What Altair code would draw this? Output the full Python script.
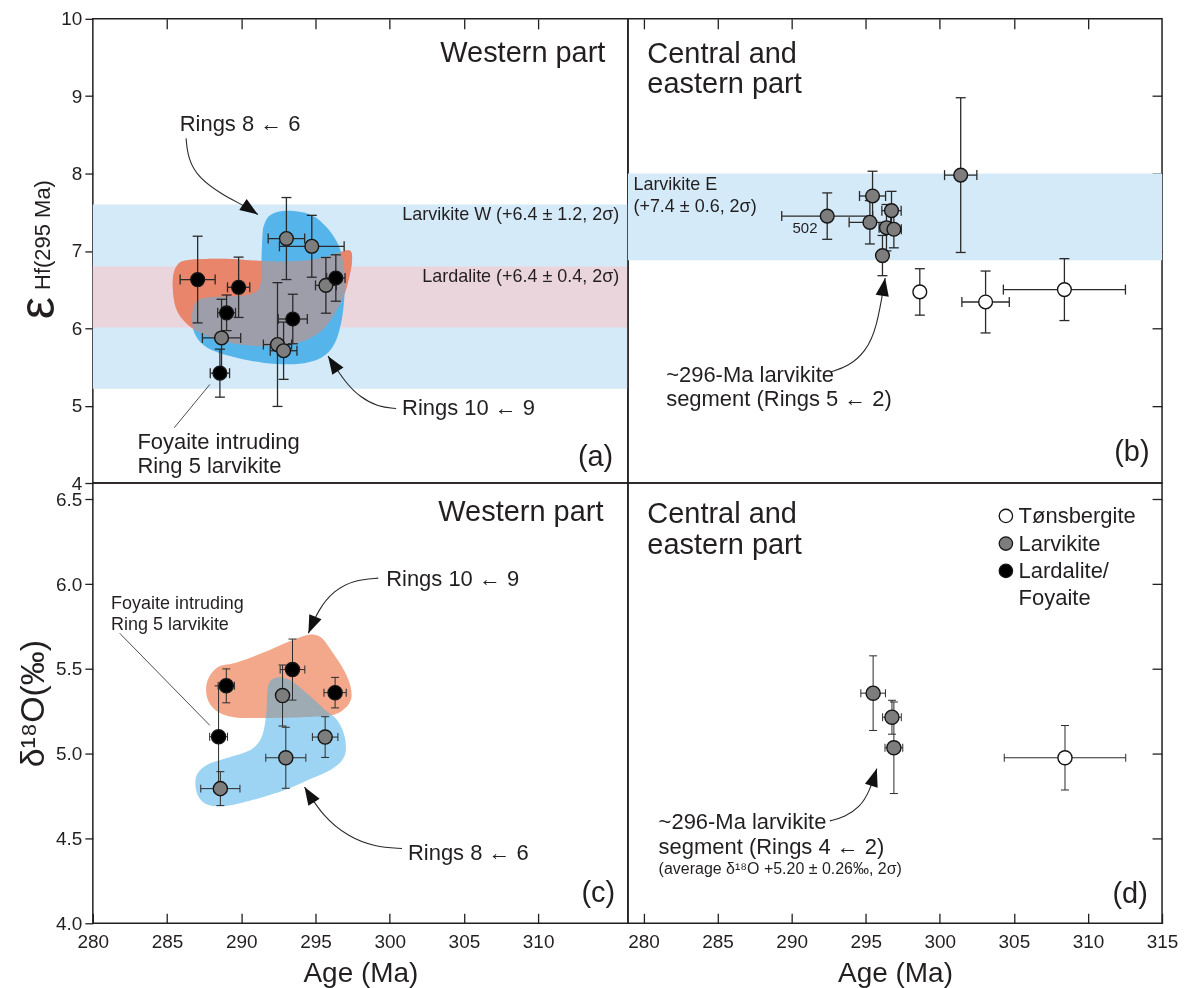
import math
import altair as alt
import pandas as pd

FONT = "Liberation Sans"
INK = "#231f20"
BAR = "#2a2a2a"

# ---------------- frames ----------------
X_WEST = [280.0, 316.05]
X_EAST = [278.95, 315.0]
Y_HF = [4.0, 10.0]
Y_O = [4.0, 6.596]
W_WEST, W_EAST, H_TOP, H_BOT = 536, 535, 465, 441

ROCKS = ["Tønsbergite", "Larvikite", "Lardalite/Foyaite"]
ROCK_FILLS = ["#ffffff", "#7d7d7d", "#000000"]

# ---------------- (a) eHf, western part ----------------
a_rock = ["Larvikite"] * 6 + ["Lardalite/Foyaite"] * 6
a_age = [288.67, 293.04, 294.75, 295.70, 292.44, 292.85, 287.06, 289.82, 289.01, 293.47, 296.37, 288.56]
a_age_err = [1.29, 1.23, 2.18, 0.70, 0.95, 0.90, 1.18, 0.75, 0.60, 0.98, 0.62, 0.65]
a_val = [5.875, 7.16, 7.06, 6.555, 5.79, 5.71, 6.63, 6.53, 6.20, 6.12, 6.65, 5.42]
a_val_err = [0.50, 0.53, 0.40, 0.36, 0.80, 0.37, 0.56, 0.39, 0.23, 0.32, 0.30, 0.31]

a_band_lo = [5.22, 6.01]
a_band_hi = [7.60, 6.80]
a_band_col = ["#d4eaf8", "#ead5dd"]

a_orange_x = [285.38, 285.71, 286.61, 288.85, 291.10, 293.34, 295.13, 296.48, 297.33, 297.46, 297.26,
              296.93, 296.25, 295.36, 293.79, 291.54, 289.30, 287.51, 286.39, 285.60]
a_orange_y = [6.607, 6.822, 6.886, 6.899, 6.873, 6.865, 6.899, 6.972, 7.002, 6.865, 6.650,
              6.435, 6.177, 5.961, 5.811, 5.768, 5.811, 5.918, 6.048, 6.262]
a_blue_x = [291.54, 291.99, 293.11, 294.68, 295.80, 296.59, 296.93, 296.97, 296.75, 296.25, 295.36, 293.79,
            291.54, 289.30, 287.73, 286.95, 286.68, 286.84, 287.51, 289.30, 290.65, 291.28, 291.37, 291.43]
a_blue_y = [7.338, 7.467, 7.518, 7.467, 7.295, 7.058, 6.779, 6.478, 6.091, 5.789, 5.617, 5.540,
            5.553, 5.639, 5.746, 5.897, 6.091, 6.306, 6.392, 6.413, 6.443, 6.564, 6.951, 7.209]

# ---------------- (b) eHf, central and eastern part ----------------
b_rock = ["Larvikite"] * 8 + ["Tønsbergite"] * 3
b_age = [292.40, 295.46, 296.74, 295.28, 296.40, 296.90, 296.13, 301.41, 298.65, 303.09, 308.41]
b_age_err = [3.07, 0.88, 0.65, 1.40, 0.50, 0.50, 0.30, 1.09, 0.0, 1.60, 4.12]
b_val = [7.45, 7.71, 7.52, 7.37, 7.30, 7.28, 6.94, 7.98, 6.47, 6.34, 6.50]
b_val_err = [0.30, 0.32, 0.25, 0.28, 0.30, 0.24, 0.26, 1.00, 0.30, 0.40, 0.40]

b_band_lo = [6.88]
b_band_hi = [8.00]
b_band_col = ["#d4eaf8"]

# ---------------- (c) d18O, western part ----------------
c_rock = ["Larvikite"] * 4 + ["Lardalite/Foyaite"] * 4
c_age = [288.59, 292.78, 293.00, 295.65, 288.99, 293.45, 296.32, 288.47]
c_age_err = [1.32, 0.40, 1.35, 0.86, 0.55, 0.83, 0.75, 0.60]
c_val = [4.794, 5.343, 4.976, 5.098, 5.40, 5.496, 5.36, 5.10]
c_val_err = [0.10, 0.18, 0.18, 0.12, 0.10, 0.18, 0.09, 0.30]

c_orange_x = [287.69, 287.73, 288.41, 289.75, 291.54, 293.34, 294.57, 295.36, 296.14, 296.93, 297.37,
              297.37, 296.81, 295.92, 294.01, 291.54, 289.53, 288.29]
c_orange_y = [5.333, 5.431, 5.509, 5.539, 5.598, 5.666, 5.702, 5.686, 5.598, 5.490, 5.392,
              5.313, 5.255, 5.225, 5.215, 5.211, 5.215, 5.255]
c_blue_x = [291.77, 291.99, 292.55, 293.34, 294.46, 295.58, 296.48, 296.97, 296.97, 296.14, 294.46,
            292.89, 291.10, 289.30, 287.84, 287.06, 286.95, 287.62, 289.08, 290.54, 291.32, 291.66]
c_blue_y = [5.372, 5.431, 5.451, 5.431, 5.353, 5.264, 5.196, 5.098, 4.990, 4.911, 4.843,
            4.784, 4.735, 4.696, 4.696, 4.755, 4.862, 4.931, 4.976, 5.019, 5.088, 5.215]

# ---------------- (d) d18O, central and eastern part ----------------
d_rock = ["Larvikite"] * 3 + ["Tønsbergite"]
d_age = [295.50, 296.77, 296.90, 308.45]
d_age_err = [0.83, 0.63, 0.60, 4.10]
d_val = [5.357, 5.215, 5.035, 4.976]
d_val_err = [0.22, 0.10, 0.27, 0.19]

legend_labels = ["Tønsbergite", "Larvikite", "Lardalite/", "Foyaite"]
legend_y = [6.402, 6.239, 6.078, 5.920]

# ---------------- annotation text ----------------
a_notes = [
    ("Western part", 314.53, 9.445, 29, "right", "alphabetic"),
    ("(a)", 315.06, 4.219, 29, "right", "alphabetic"),
    ("Larvikite W (+6.4 ± 1.2, 2σ)", 315.47, 7.47, 18, "right", "middle"),
    ("Lardalite (+6.4 ± 0.4, 2σ)", 315.47, 6.66, 18, "right", "middle"),
    ("Rings 8 ← 6", 285.85, 8.64, 22, "left", "middle"),
    ("Rings 10 ← 9", 300.83, 4.964, 22, "left", "middle"),
    ("Foyaite intruding", 283.0, 4.53, 22, "left", "middle"),
    ("Ring 5 larvikite", 283.0, 4.22, 22, "left", "middle"),
]
b_notes = [
    ("Central and", 280.26, 9.432, 29, "left", "alphabetic"),
    ("eastern part", 280.26, 9.036, 29, "left", "alphabetic"),
    ("(b)", 314.16, 4.284, 29, "right", "alphabetic"),
    ("Larvikite E", 279.32, 7.85, 18, "left", "middle"),
    ("(+7.4 ± 0.6, 2σ)", 279.32, 7.57, 18, "left", "middle"),
    ("502", 290.9, 7.29, 15, "center", "middle"),
    ("~296-Ma larvikite", 281.53, 5.40, 22, "left", "middle"),
    ("segment (Rings 5 ← 2)", 281.53, 5.08, 22, "left", "middle"),
]
c_notes = [
    ("Western part", 314.4, 6.372, 29, "right", "alphabetic"),
    ("(c)", 315.19, 4.127, 29, "right", "alphabetic"),
    ("Rings 10 ← 9", 299.76, 6.03, 22, "left", "middle"),
    ("Rings 8 ← 6", 301.23, 4.415, 22, "left", "middle"),
    ("Foyaite intruding", 281.23, 5.882, 18, "left", "middle"),
    ("Ring 5 larvikite", 281.23, 5.76, 18, "left", "middle"),
]
d_notes = [
    ("Central and", 280.26, 6.362, 29, "left", "alphabetic"),
    ("eastern part", 280.26, 6.176, 29, "left", "alphabetic"),
    ("(d)", 314.04, 4.118, 29, "right", "alphabetic"),
    ("~296-Ma larvikite", 281.02, 4.598, 22, "left", "middle"),
    ("segment (Rings 4 ← 2)", 281.02, 4.45, 22, "left", "middle"),
    ("(average δ¹⁸O +5.20 ± 0.26‰, 2σ)", 281.02, 4.318, 16, "left", "middle"),
] + [(t, 305.32, y, 22, "left", "middle") for t, y in zip(legend_labels, legend_y)]

# curved arrows: lists of (x, y) control points, last point = arrow tip
a_arrows = [
    [(286.28, 8.455), (286.41, 8.19), (287.13, 7.94), (288.72, 7.725), (290.31, 7.574), (291.12, 7.47)],
    [(300.43, 4.964), (299.2, 4.985), (298.0, 5.11), (297.0, 5.30), (295.85, 5.64)],
]
b_arrows = [
    [(292.63, 5.436), (293.85, 5.51), (295.0, 5.70), (295.75, 6.0), (296.31, 6.65)],
]
c_arrows = [
    [(299.23, 6.035), (297.6, 6.025), (296.2, 5.96), (295.2, 5.85), (294.52, 5.71)],
    [(300.83, 4.441), (299.0, 4.45), (297.2, 4.51), (295.5, 4.63), (294.26, 4.804)],
]
d_arrows = [
    [(292.58, 4.604), (293.59, 4.627), (294.61, 4.686), (295.24, 4.774), (295.75, 4.912)],
]
a_pointers = [[(285.48, 4.714), (287.88, 5.274)]]
c_pointers = [[(281.81, 5.71), (287.88, 5.167)]]

HEAD = "M0,0L0.37,1L-0.37,1Z"
LABEL_FS = 19


def ax_in(orient, values):
    return alt.Axis(orient=orient, values=values, labels=False, tickSize=10, offset=-10,
                    domain=False, grid=False, title=None, tickColor=INK, tickWidth=1.3)


LAB = dict(labelFont=FONT, labelFontSize=LABEL_FS, labelColor=INK, tickColor=INK, tickWidth=1.3,
           domain=False, grid=False, labelFlush=False)

ax_a_x = ax_in("top", [285, 290, 295, 300, 305, 310])
ax_a_y = alt.Axis(orient="left", values=[4, 5, 6, 7, 8, 9, 10], format="d", tickSize=8,
                  labelPadding=3, title=None, **LAB)
ax_b_x = ax_in("top", [280, 285, 290, 295, 300, 305, 310])
ax_b_y = ax_in("right", [5, 6, 7, 8, 9])
TIT = dict(titleFont=FONT, titleFontWeight="normal", titleColor=INK)
ax_c_x = alt.Axis(orient="bottom", values=[280, 285, 290, 295, 300, 305, 310], format="d",
                  tickSize=10, offset=-10, labelPadding=9, title="Age (Ma)", titleFontSize=28,
                  titlePadding=8, **TIT, **LAB)
ax_c_y = alt.Axis(orient="left", values=[4.0, 4.5, 5.0, 5.5, 6.0, 6.5], format=".1f", tickSize=8,
                  labelPadding=3, title="δ¹⁸O(‰)", titleFontSize=34, titlePadding=5, **TIT, **LAB)
ax_d_x = alt.Axis(orient="bottom", values=[280, 285, 290, 295, 300, 305, 310, 315], format="d",
                  tickSize=10, offset=-10, labelPadding=9, title="Age (Ma)", titleFontSize=28,
                  titlePadding=8, **TIT, **LAB)
ax_d_y = ax_in("right", [4.5, 5.0, 5.5, 6.0, 6.5])


def panel(W, H, xdom, ydom, xaxis, yaxis, age, age_err, val, val_err, rock,
          cap=10, bw=1.3, psize=190, bands=None, blobs=(), notes=(), arrows=(), pointers=(),
          extra=None):
    def X(f):
        return alt.X(f, type="quantitative", scale=alt.Scale(domain=xdom, nice=False, zero=False), axis=xaxis)

    def Y(f):
        return alt.Y(f, type="quantitative", scale=alt.Scale(domain=ydom, nice=False, zero=False), axis=yaxis)

    pts = pd.DataFrame({"age": age, "age_err": age_err, "val": val, "val_err": val_err, "rock": rock})
    layers = []
    if bands is not None:
        lo, hi, col = bands
        bd = pd.DataFrame({"lo": lo, "hi": hi, "col": col})
        layers.append(alt.Chart(bd).mark_rect().encode(
            y=Y("lo"), y2="hi", fill=alt.Fill("col:N", scale=None)))
    for bx, by, col, op, blend in blobs:
        d = pd.DataFrame({"x": bx, "y": by, "i": list(range(len(bx)))})
        kw = dict(interpolate="cardinal-closed", fill=col, fillOpacity=op, strokeWidth=0, strokeOpacity=0)
        if blend:
            kw["blend"] = blend
        layers.append(alt.Chart(d).mark_line(**kw).encode(x=X("x"), y=Y("y"), order="i:Q"))

    h = pts[pts.age_err > 0].copy()
    h["lo"] = h.age - h.age_err
    h["hi"] = h.age + h.age_err
    v = pts[pts.val_err > 0].copy()
    v["lo"] = v.val - v.val_err
    v["hi"] = v.val + v.val_err
    layers.append(alt.Chart(h).mark_rule(color=BAR, strokeWidth=bw).encode(x=X("lo"), x2="hi", y=Y("val")))
    layers.append(alt.Chart(v).mark_rule(color=BAR, strokeWidth=bw).encode(x=X("age"), y=Y("lo"), y2="hi"))
    hc = pd.concat([h.assign(e=h.lo), h.assign(e=h.hi)], ignore_index=True)
    vc = pd.concat([v.assign(e=v.lo), v.assign(e=v.hi)], ignore_index=True)
    layers.append(alt.Chart(hc).mark_tick(orient="vertical", size=cap, thickness=bw, color=BAR, opacity=1)
                  .encode(x=X("e"), y=Y("val")))
    layers.append(alt.Chart(vc).mark_tick(orient="horizontal", size=cap, thickness=bw, color=BAR, opacity=1)
                  .encode(x=X("age"), y=Y("e")))
    layers.append(alt.Chart(pts).mark_circle(size=psize, stroke="#151515", strokeWidth=1.4, opacity=1).encode(
        x=X("age"), y=Y("val"),
        fill=alt.Fill("rock:N", scale=alt.Scale(domain=ROCKS, range=ROCK_FILLS), legend=None)))

    for pl in pointers:
        d = pd.DataFrame({"x": [p[0] for p in pl], "y": [p[1] for p in pl], "i": list(range(len(pl)))})
        layers.append(alt.Chart(d).mark_line(color="#3a3a3a", strokeWidth=0.9).encode(
            x=X("x"), y=Y("y"), order="i:Q"))

    if arrows:
        sx = W / (xdom[1] - xdom[0])
        sy = H / (ydom[1] - ydom[0])
        rows, heads = [], []
        for k, ar in enumerate(arrows):
            for i, (x, y) in enumerate(ar):
                rows.append({"id": k, "i": i, "x": x, "y": y})
            dx = (ar[-1][0] - ar[-2][0]) * sx
            dy = -(ar[-1][1] - ar[-2][1]) * sy
            ang = math.degrees(math.atan2(dx, -dy)) % 360
            heads.append({"x": ar[-1][0], "y": ar[-1][1], "ang": ang})
        layers.append(alt.Chart(pd.DataFrame(rows)).mark_line(interpolate="basis", color="#2a2a2a", strokeWidth=1.1)
                      .encode(x=X("x"), y=Y("y"), order="i:Q", detail="id:N"))
        layers.append(alt.Chart(pd.DataFrame(heads)).mark_point(shape=HEAD, size=1296, filled=True,
                                                                 color="#111111", opacity=1, strokeWidth=0)
                      .encode(x=X("x"), y=Y("y"), angle=alt.Angle("ang:Q", scale=None)))

    if notes:
        nd = pd.DataFrame(notes, columns=["t", "x", "y", "fs", "align", "base"])
        for (al, bl), g in nd.groupby(["align", "base"]):
            layers.append(alt.Chart(g).mark_text(align=al, baseline=bl, font=FONT, color=INK).encode(
                x=X("x"), y=Y("y"), text="t:N", size=alt.Size("fs:Q", scale=None)))
    if extra is not None:
        layers.extend(extra(X, Y))
    return alt.layer(*layers).properties(width=W, height=H)


def a_extra(X, Y):
    t1 = pd.DataFrame({"t": ["ε"], "y": [6.26]})
    t2 = pd.DataFrame({"t": ["Hf(295 Ma)"], "y": [7.206]})
    return [
        alt.Chart(t1).mark_text(angle=270, font=FONT, fontSize=50, color=INK, align="center", baseline="middle")
        .encode(x=alt.value(-54), y=Y("y"), text="t:N"),
        alt.Chart(t2).mark_text(angle=270, font=FONT, fontSize=22, color=INK, align="center", baseline="middle")
        .encode(x=alt.value(-50), y=Y("y"), text="t:N"),
    ]


def d_extra(X, Y):
    lg = pd.DataFrame({"x": [304.46] * 3, "y": legend_y[:3], "rock": ROCKS})
    return [alt.Chart(lg).mark_circle(size=180, stroke="#151515", strokeWidth=1.3, opacity=1).encode(
        x=X("x"), y=Y("y"),
        fill=alt.Fill("rock:N", scale=alt.Scale(domain=ROCKS, range=ROCK_FILLS), legend=None))]


pa = panel(W_WEST, H_TOP, X_WEST, Y_HF, ax_a_x, ax_a_y, a_age, a_age_err, a_val, a_val_err, a_rock,
           bands=(a_band_lo, a_band_hi, a_band_col),
           blobs=[(a_orange_x, a_orange_y, "#e8856a", 1, None),
                  (a_blue_x, a_blue_y, "#55b5ea", 1, None),
                  (a_orange_x, a_orange_y, "#e8856a", 0.5, None)],
           notes=a_notes, arrows=a_arrows, pointers=a_pointers, extra=a_extra)
pb = panel(W_EAST, H_TOP, X_EAST, Y_HF, ax_b_x, ax_b_y, b_age, b_age_err, b_val, b_val_err, b_rock,
           bands=(b_band_lo, b_band_hi, b_band_col), notes=b_notes, arrows=b_arrows)
pc = panel(W_WEST, H_BOT, X_WEST, Y_O, ax_c_x, ax_c_y, c_age, c_age_err, c_val, c_val_err, c_rock,
           cap=8, bw=1.0, psize=200,
           blobs=[(c_orange_x, c_orange_y, "#f3d0bf", 1, None),
                  (c_blue_x, c_blue_y, "#9ed4f3", 1, None),
                  (c_orange_x, c_orange_y, "#ffcebb", 1, "multiply")],
           notes=c_notes, arrows=c_arrows, pointers=c_pointers)
pd_ = panel(W_EAST, H_BOT, X_EAST, Y_O, ax_d_x, ax_d_y, d_age, d_age_err, d_val, d_val_err, d_rock,
            cap=8, bw=1.0, psize=200, notes=d_notes, arrows=d_arrows, extra=d_extra)

chart = alt.concat(pa, pb, pc, pd_, columns=2, spacing=0, bounds="flush").properties(
    padding={"left": 5, "top": 0, "right": 4, "bottom": 2}
).configure_view(stroke=INK, strokeWidth=1.5)

chart.save("out.html", embed_options={"renderer": "svg", "actions": False})
